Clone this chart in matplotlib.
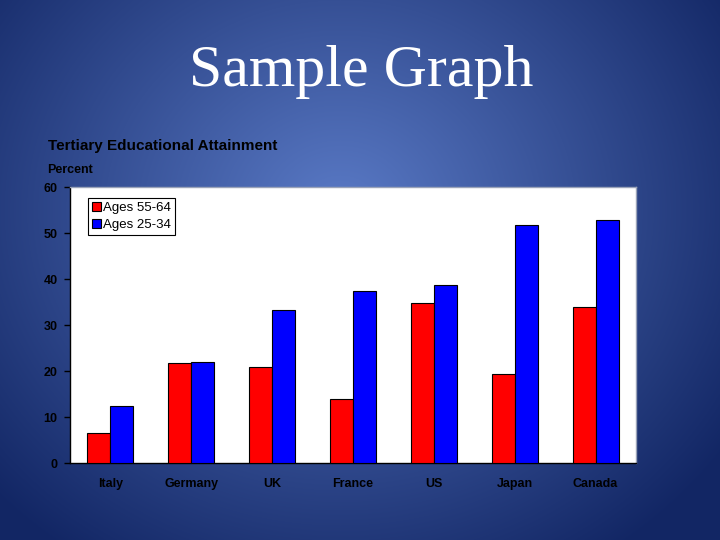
import numpy as np
import matplotlib
matplotlib.use("Agg")
import matplotlib.pyplot as plt

categories = ["Italy", "Germany", "UK", "France", "US", "Japan", "Canada"]
ages_55_64 = [6.6, 21.7, 20.8, 13.9, 34.7, 19.3, 33.9]
ages_25_34 = [12.5, 21.9, 33.2, 37.4, 38.6, 51.8, 52.8]
series_labels = ["Ages 55-64", "Ages 25-34"]
yticks = [0, 10, 20, 30, 40, 50, 60]

narrow = ["Liberation Sans Narrow", "Liberation Sans", "DejaVu Sans"]

fig = plt.figure(figsize=(7.2, 5.4), dpi=100)

# background radial gradient
bg = fig.add_axes([0, 0, 1, 1], zorder=-10)
H, W = 540, 720
yy, xx = np.mgrid[0:H, 0:W]
cx, cy = 340, 210
d = np.sqrt(((xx - cx) / 470.0) ** 2 + ((yy - cy) / 420.0) ** 2)
d = np.clip(d, 0, 1) ** 1.0
c0 = np.array([90, 122, 198]) / 255.0
c1 = np.array([18, 38, 100]) / 255.0
img = c0[None, None, :] * (1 - d[..., None]) + c1[None, None, :] * d[..., None]
bg.imshow(img, aspect="auto", extent=[0, 1, 0, 1], origin="upper")
bg.set_axis_off()

fig.text(361 / 720, 1 - 72 / 540, "Sample Graph", family=["Liberation Serif", "DejaVu Serif"],
         fontsize=43, color="white", ha="center", va="center")
fig.text(48 / 720, 1 - 146 / 540, "Tertiary Educational Attainment", family=narrow,
         fontsize=11, fontweight="bold", color="black", ha="left", va="center")
fig.text(47 / 720, 1 - 170 / 540, "Percent", family=narrow,
         fontsize=9, fontweight="bold", color="black", ha="left", va="center")

ax = fig.add_axes([70 / 720, 1 - 463 / 540, 566 / 720, 276 / 540])
ax.set_facecolor("white")
x = np.arange(len(categories))
w = 0.285
ax.bar(x - w / 2, ages_55_64, w, color="#ff0000", edgecolor="black", linewidth=0.8,
       label=series_labels[0], zorder=3)
ax.bar(x + w / 2, ages_25_34, w, color="#0000ff", edgecolor="black", linewidth=0.8,
       label=series_labels[1], zorder=3)
ax.set_xlim(-0.5, len(categories) - 0.5)
ax.set_ylim(0, 60)
ax.set_yticks(yticks)
ax.set_yticklabels([str(t) for t in yticks], family=narrow, fontweight="bold", fontsize=9)
ax.set_xticks(x)
ax.set_xticklabels(categories, family=narrow, fontweight="bold", fontsize=9)
ax.tick_params(axis="x", length=0, pad=11)
ax.tick_params(axis="y", length=4, width=1, direction="out", pad=5)
ax.spines["left"].set_color("black")
ax.spines["bottom"].set_color("black")
ax.spines["top"].set_color("#9aa3b8")
ax.spines["right"].set_color("#9aa3b8")
for s in ax.spines.values():
    s.set_linewidth(1)

leg = ax.legend(loc="upper left", bbox_to_anchor=(0.031, 0.96), borderaxespad=0,
                fancybox=False, framealpha=1, edgecolor="black",
                handlelength=0.7, handleheight=0.7,
                handletextpad=0.2, borderpad=0.3, labelspacing=0.35,
                prop={"family": ["Liberation Sans", "DejaVu Sans"], "size": 9.5})
leg.get_frame().set_linewidth(0.8)

fig.savefig("out.png", dpi=100)
